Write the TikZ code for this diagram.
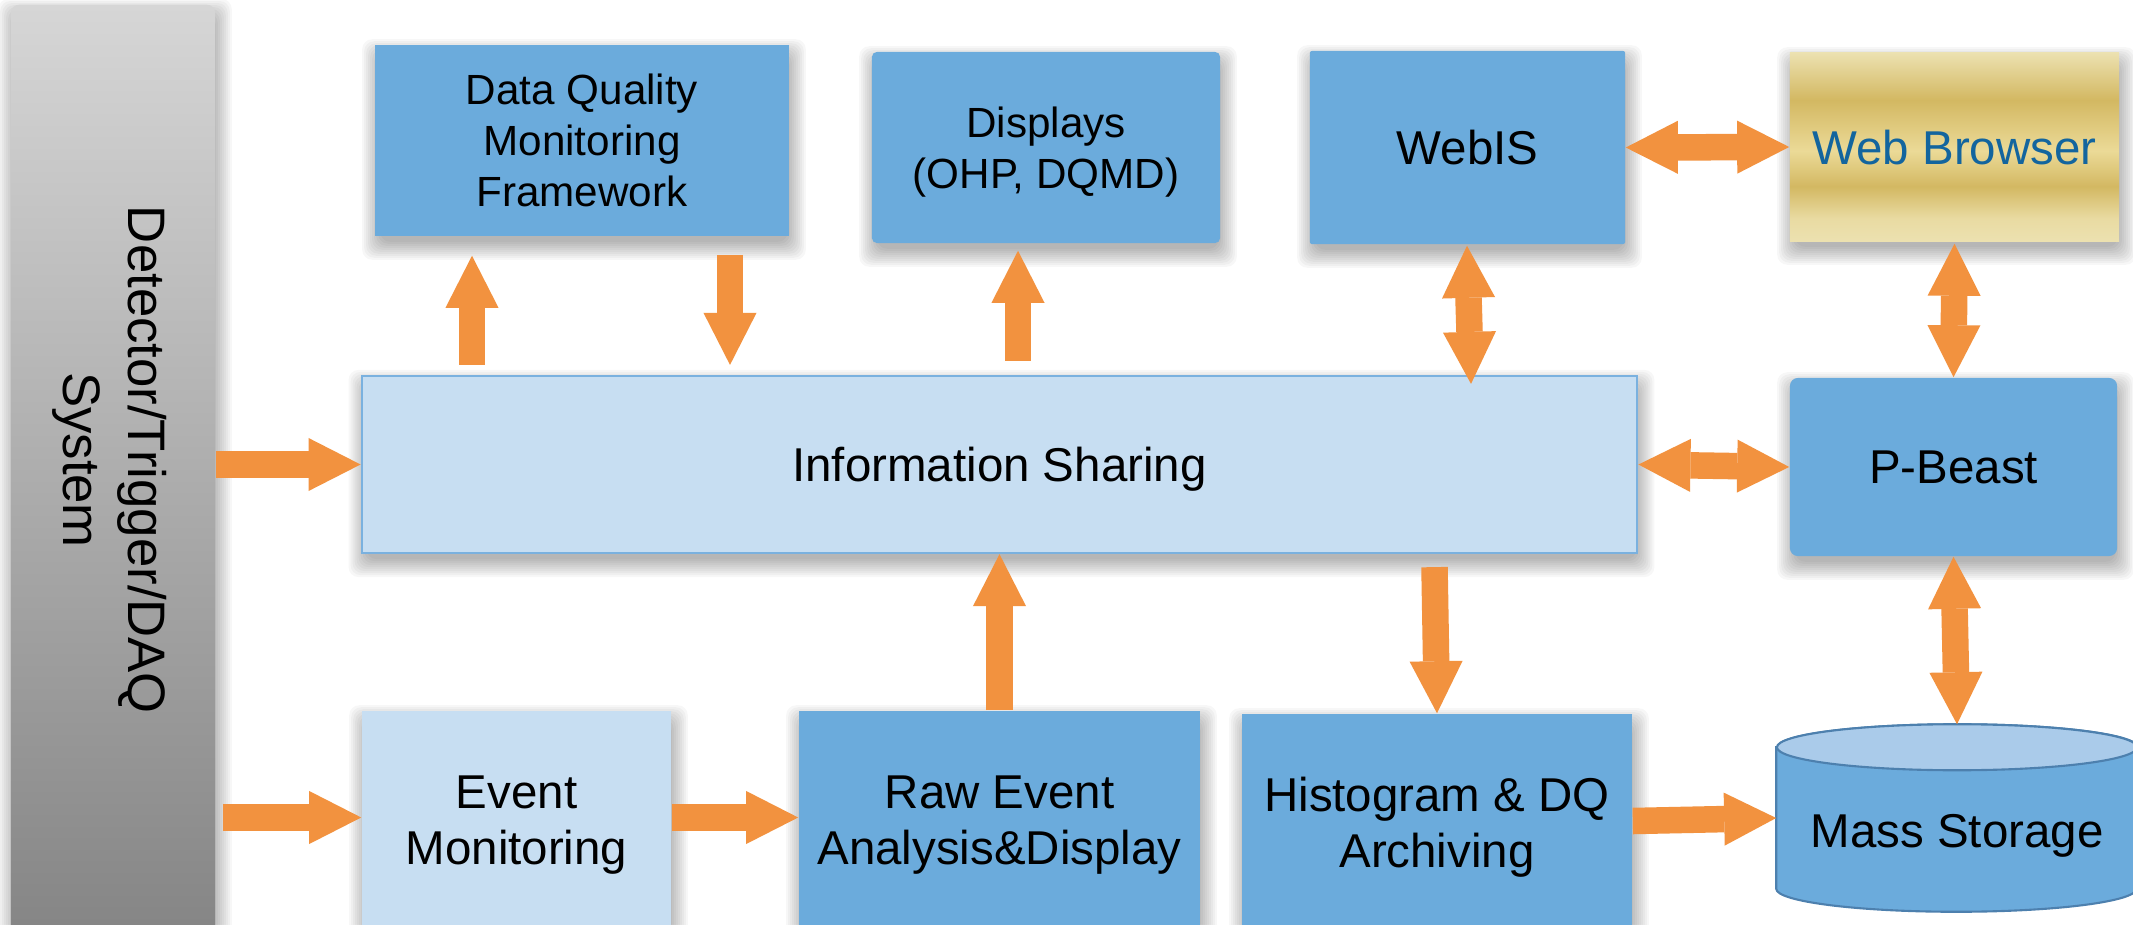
\documentclass[tikz,border=0pt]{standalone}
\usepackage{fontspec}
\setmainfont{Liberation Sans}
\usetikzlibrary{arrows.meta,calc}
\pgfdeclarelayer{bg}
\pgfsetlayers{bg,main}
\definecolor{blueD}{HTML}{6BABDC}
\definecolor{blueL}{HTML}{C7DEF2}
\definecolor{infoB}{HTML}{7AB1DF}
\definecolor{orangeA}{HTML}{F2923F}
\definecolor{gA}{HTML}{ECE1B0}
\definecolor{gB}{HTML}{D3B862}
\definecolor{gC}{HTML}{EBDA97}
\definecolor{gD}{HTML}{E9DBA2}
\definecolor{wbText}{HTML}{13659E}
\definecolor{cylTop}{HTML}{AACBEA}
\definecolor{cylB}{HTML}{4D80AE}
\definecolor{detTop}{HTML}{D6D6D6}
\definecolor{detBot}{HTML}{858585}
\pgfdeclareverticalshading{goldsh}{100bp}{color(0bp)=(gA); color(25bp)=(gA); color(31bp)=(gD); color(39.5bp)=(gB); color(49bp)=(gC); color(62.5bp)=(gB); color(75bp)=(gA); color(100bp)=(gA)}
\newcommand\mainfs{\fontsize{13.5}{16}\selectfont}
\newcommand\smallfs{\fontsize{12}{14.5}\selectfont}
\newcommand\detfs{\fontsize{15}{18.5}\selectfont}
\newcommand\softshadow[1]{%
  \foreach \e in {-4,-2,...,14} {%
    \fill[shadowlayer] ($(#1.north west)+(-\e+2,-\e+9)$) rectangle ($(#1.south east)+(\e+2,\e+9)$);
  }}
\begin{document}
\begin{tikzpicture}[x=0.01cm,y=-0.01cm,
  shadowlayer/.style={black, opacity=0.03, rounded corners=0.1cm},
  box/.style={draw=none, inner sep=0pt, align=center, font=\mainfs, text=black, text depth=0pt},
  dark/.style={box, fill=blueD},
  light/.style={box, fill=blueL},
  barrow/.style={draw=orangeA, line width=0.265cm, -{Triangle[width=0.53cm,length=0.52cm,line width=0pt]}},
  dbarrow/.style={draw=orangeA, line width=0.265cm, {Triangle[width=0.53cm,length=0.52cm,line width=0pt]}-{Triangle[width=0.53cm,length=0.52cm,line width=0pt]}}
]
\useasboundingbox (0,0) rectangle (2133,924);

% Detector
\node[box, rounded corners=0.08cm, top color=detTop, bottom color=detBot, minimum width=2.04cm, minimum height=9.3cm] (det) at (113,470) {};
\node[rotate=-90, align=center, font=\detfs] (dettext) at (110,460) {Detector/Trigger/DAQ\\System};

% top row
\node[dark, minimum width=4.14cm, minimum height=1.91cm, font=\smallfs] (dqm) at (582,140.5) {Data Quality\\Monitoring\\Framework};
\node[dark, rounded corners=0.05cm, minimum width=3.48cm, minimum height=1.91cm, font=\smallfs] (disp) at (1046,147.5) {Displays\\(OHP, DQMD)};
\node[dark, rounded corners=0.02cm, minimum width=3.15cm, minimum height=1.93cm] (webis) at (1467.5,147.5) {WebIS};
\node[box, shade, shading=goldsh, minimum width=3.29cm, minimum height=1.88cm, text=wbText] (wb) at (1954.5,147) {Web Browser};

% middle row
\node[light, draw=infoB, line width=0.6pt, minimum width=12.75cm, minimum height=1.77cm] (info) at (999.5,464.5) {Information Sharing};
\node[dark, rounded corners=0.08cm, minimum width=3.27cm, minimum height=1.78cm] (pb) at (1953.5,467) {P-Beast};

% bottom row
\node[light, minimum width=3.09cm, minimum height=2.19cm] (evm) at (516.5,820.5) {Event\\Monitoring};
\node[dark, minimum width=4.01cm, minimum height=2.19cm] (raw) at (999.5,820.5) {Raw Event\\Analysis\&Display};
\node[dark, minimum width=3.90cm, minimum height=2.16cm] (hist) at (1437,822) {Histogram \& DQ\\Archiving};

% Mass storage cylinder
\node[inner sep=0pt, minimum width=3.6cm, minimum height=1.86cm] (ms) at (1957,818) {};
\filldraw[fill=blueD, draw=cylB, line width=0.6pt]
  ($(ms.north west)+(0,23)$) -- ($(ms.south west)+(0,-23)$)
  arc[start angle=180, end angle=360, x radius=1.8cm, y radius=0.23cm]
  -- ($(ms.north east)+(0,23)$)
  arc[start angle=0, end angle=180, x radius=1.8cm, y radius=0.23cm] -- cycle;
\filldraw[fill=cylTop, draw=cylB, line width=0.6pt] ($(ms.north)+(0,23)$) ellipse[x radius=1.8cm, y radius=0.23cm];
\node[font=\mainfs, text depth=0pt] (mstext) at (1957,831) {Mass Storage};

% soft shadows
\begin{pgfonlayer}{bg}
  \fill[white] (0,0) rectangle (2133,924);
  \softshadow{det}
  \softshadow{dqm}
  \softshadow{disp}
  \softshadow{webis}
  \softshadow{wb}
  \softshadow{info}
  \softshadow{pb}
  \softshadow{evm}
  \softshadow{raw}
  \softshadow{hist}
\end{pgfonlayer}

% arrows
\draw[barrow] (det.east |- info.west) -- (info.west);
\draw[barrow] ($(det.east |- evm.west)+(7,-3)$) -- ($(evm.west)+(0,-3)$);
\draw[barrow] ($(evm.east)+(0,-3)$) -- ($(raw.west)+(0,-3)$);
\draw[barrow] (raw.north) -- (info.south);
\draw[barrow] ($(info.south -| hist.north)+(-2.5,13)$) -- (hist.north);
\draw[barrow] ($(hist.east)+(0,-1)$) -- (ms.west);
\draw[barrow] ($(info.north)+(-527.5,-10)$) -- ($(dqm.south)+(-110,19)$);
\draw[barrow] ($(dqm.south)+(148,18)$) -- ($(info.north)+(-269.5,-10)$);
\draw[barrow] ($(info.north)+(18.5,-14)$) -- ($(disp.south)+(-28,7)$);
\draw[dbarrow] ($(webis.south)+(-0.5,1)$) -- ($(info.north -| webis.south)+(3.5,9)$);
\draw[dbarrow] (webis.east) -- (wb.west);
\draw[dbarrow] ($(wb.south)+(0,2)$) -- (pb.north);
\draw[dbarrow] (info.east) -- (pb.west);
\draw[dbarrow] (pb.south) -- (ms.north);
\end{tikzpicture}
\end{document}
